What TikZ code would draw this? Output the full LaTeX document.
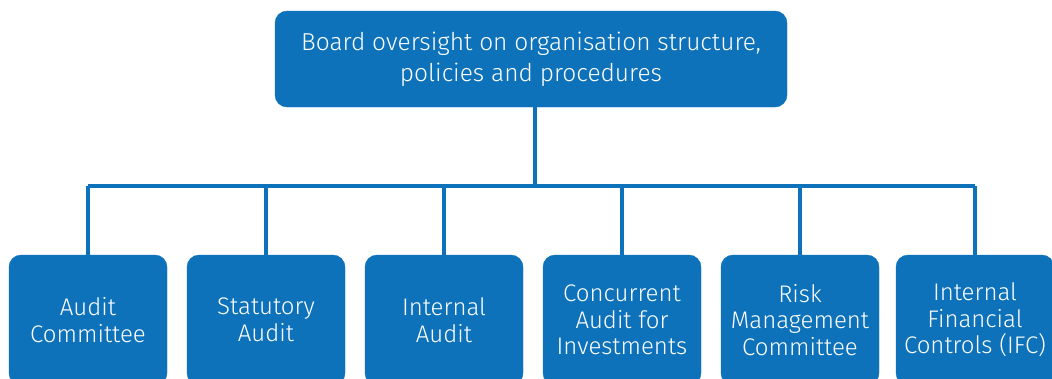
\documentclass[tikz,border=0pt]{standalone}
\usepackage{fontspec}
\setmainfont{Fira Sans Light}
\definecolor{boxblue}{HTML}{0D72BA}
\begin{document}
\begin{tikzpicture}[x=1pt,y=-1pt,
  box/.style={fill=boxblue, draw=boxblue, rounded corners=12pt, text=white, align=center, inner sep=0pt},
  topbox/.style={box, minimum width=512pt, minimum height=96pt, font=\fontsize{24.5}{31}\selectfont},
  subbox/.style={box, minimum width=158pt, minimum height=130pt, font=\fontsize{24}{26.5}\selectfont},
  conn/.style={draw=boxblue, line width=4.5pt}]
\useasboundingbox (0,0) rectangle (1052,378);
\node[topbox] (top) at (531,59) {\raisebox{-3pt}{\parbox{500pt}{\centering Board oversight on organisation structure,\\policies and procedures}}};
\node[subbox] (b1) at (88,320) {Audit\\Committee};
\node[subbox] (b2) at (266,320) {Statutory\\Audit};
\node[subbox] (b3) at (444,320) {Internal\\Audit};
\node[subbox] (b4) at (622,320) {Concurrent\\Audit for\\Investments};
\node[subbox] (b5) at (800,320) {Risk\\Management\\Committee};
\node[subbox] (b6) at (975,320) {Internal\\Financial\\Controls (IFC)};
\coordinate (bus) at (535,186);
\draw[conn] (top.south -| bus) -- (bus);
\draw[conn] (b1.north |- bus) -- (b6.north |- bus);
\foreach \b in {b1,b2,b3,b4,b5,b6}
  \draw[conn] (\b.north) -- (\b.north |- bus);
\end{tikzpicture}
\end{document}
